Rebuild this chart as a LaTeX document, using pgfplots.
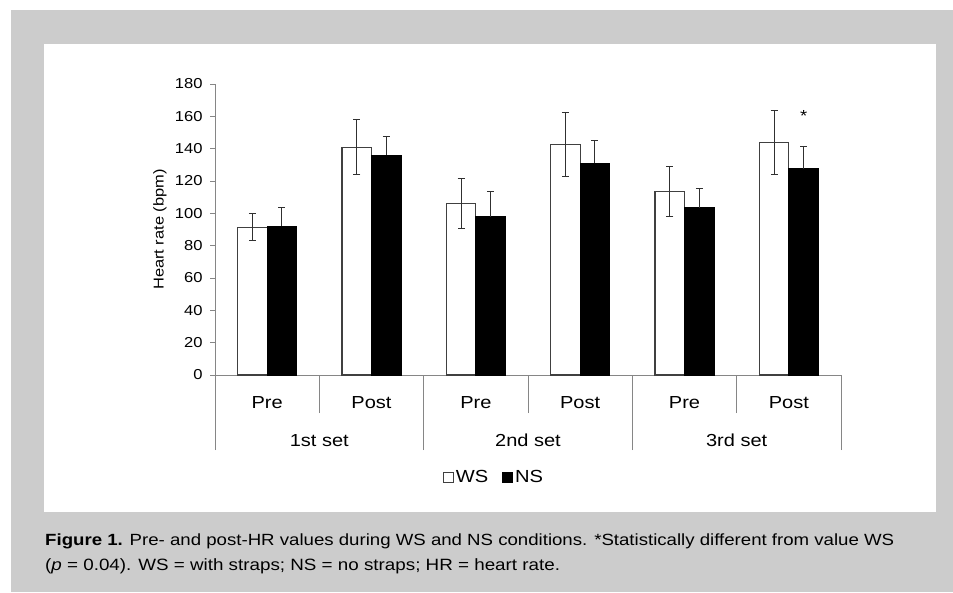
\documentclass[border=0pt]{standalone}
\usepackage{fontspec}
\setmainfont[FakeStretch=1.15]{Liberation Sans}
\usepackage{pgfplots}
\pgfplotsset{compat=1.18}
\definecolor{bggray}{HTML}{CCCCCC}
\definecolor{axgray}{HTML}{868686}
\definecolor{bardraw}{HTML}{404040}
\definecolor{errcol}{HTML}{303030}

\begin{document}
\begin{tikzpicture}[x=1pt,y=1pt]
\useasboundingbox (0,0) rectangle (953,592);
\fill[white] (0,0) rectangle (953,592);
\fill[bggray] (11,0) rectangle (953,582);
\fill[white] (44,80) rectangle (936,548);
\begin{axis}[
  at={(215pt,217pt)}, anchor=south west,
  scale only axis, width=626pt, height=291pt,
  xmin=-0.5, xmax=5.5, ymin=0, ymax=180,
  clip=false,
  ybar=0pt, bar width=29.5pt,
  axis lines*=left,
  axis line style={axgray, line width=0.9pt},
  tick style={axgray, line width=0.9pt},
  tick align=outside,
  major tick length=38pt,
  xtick={0.5,2.5,4.5},
  xticklabels={},
  extra x ticks={-0.5,1.5,3.5,5.5},
  extra x tick labels={},
  extra x tick style={major tick length=75pt},
  ytick=\empty,
  extra y ticks={0,20,...,180},
  extra y tick style={major tick length=5pt},
  /pgf/number format/assume math mode=true,
  yticklabel style={font=\fontsize{14.4}{17}\selectfont, xshift=-4pt},
  ylabel={Heart rate (bpm)},
  ylabel style={at={(axis description cs:-0.0879,0.5)}, anchor=center, font=\fontsize{14.3}{17}\selectfont},
  legend style={at={(axis description cs:0.4457,-0.3505)}, anchor=center, draw=none, fill=none,
    legend columns=2, font=\fontsize{17.5}{21}\selectfont,
    /tikz/every even column/.append style={column sep=12pt},
    /tikz/every odd column/.append style={column sep=0pt}},
  error bars/error bar style={line width=1pt, draw=errcol},
  error bars/error mark options={rotate=90, mark size=3.5pt, line width=1pt, draw=errcol},
]
\addplot[fill=white, draw=bardraw, line width=1.2pt,
  legend image code/.code={\draw[fill=white,draw=bardraw,line width=0.9pt] (0pt,-5pt) rectangle (10pt,5pt);},
  error bars/.cd, y dir=both, y explicit]
coordinates {
  (0,91.4) +- (0,8.4)
  (1,140.8) +- (0,17.0)
  (2,105.9) +- (0,15.5)
  (3,142.8) +- (0,19.8)
  (4,113.4) +- (0,15.4)
  (5,143.8) +- (0,20.0)
};
\addlegendentry{WS}
\addplot[fill=black, draw=black, line width=1.2pt,
  legend image code/.code={\draw[fill=black,draw=black,line width=0.9pt] (0pt,-5pt) rectangle (10pt,5pt);},
  error bars/.cd, y dir=plus, y explicit]
coordinates {
  (0,92.1) +- (0,11.7)
  (1,136.0) +- (0,11.8)
  (2,98.0) +- (0,15.4)
  (3,130.9) +- (0,14.0)
  (4,103.4) +- (0,11.9)
  (5,127.6) +- (0,13.8)
};
\addlegendentry{NS}
\node[anchor=base, font=\fontsize{16}{18}\selectfont] at (axis cs:5.1416,156.8) {*};
\node[anchor=base, font=\fontsize{17.4}{21}\selectfont, yshift=-33pt] at (axis cs:0,0) {Pre};
\node[anchor=base, font=\fontsize{17.4}{21}\selectfont, yshift=-33pt] at (axis cs:1,0) {Post};
\node[anchor=base, font=\fontsize{17.4}{21}\selectfont, yshift=-33pt] at (axis cs:2,0) {Pre};
\node[anchor=base, font=\fontsize{17.4}{21}\selectfont, yshift=-33pt] at (axis cs:3,0) {Post};
\node[anchor=base, font=\fontsize{17.4}{21}\selectfont, yshift=-33pt] at (axis cs:4,0) {Pre};
\node[anchor=base, font=\fontsize{17.4}{21}\selectfont, yshift=-33pt] at (axis cs:5,0) {Post};
\node[anchor=base, font=\fontsize{17.4}{21}\selectfont, yshift=-71pt] at (axis cs:0.5,0) {1st set};
\node[anchor=base, font=\fontsize{17.4}{21}\selectfont, yshift=-71pt] at (axis cs:2.5,0) {2nd set};
\node[anchor=base, font=\fontsize{17.4}{21}\selectfont, yshift=-71pt] at (axis cs:4.5,0) {3rd set};
\end{axis}
\node[anchor=base west, inner sep=0pt, font=\fontsize{16.2}{20}\selectfont] at (45,47)
  {\textbf{Figure 1.} Pre- and post-HR values during WS and NS conditions. *Statistically different from value WS};
\node[anchor=base west, inner sep=0pt, font=\fontsize{16.35}{20}\selectfont] at (45,22)
  {(\textit{p} = 0.04). WS = with straps; NS = no straps; HR = heart rate.};
\end{tikzpicture}
\end{document}
